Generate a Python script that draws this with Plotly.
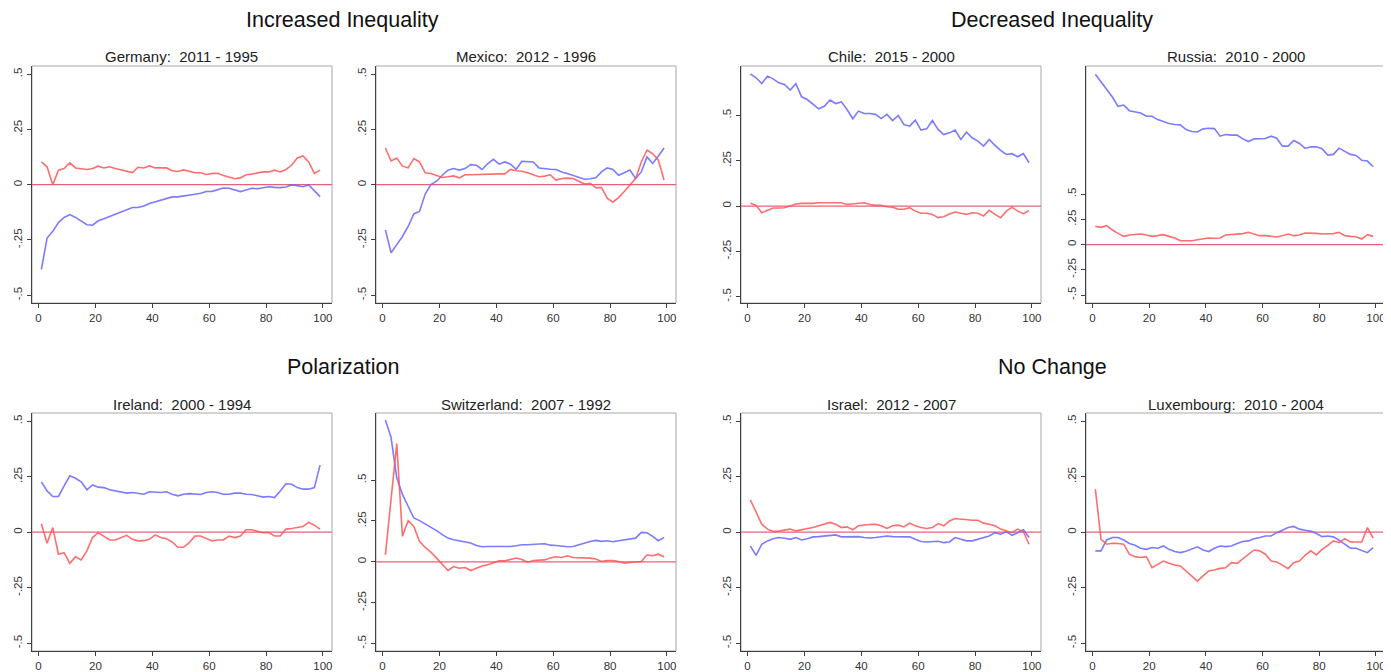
import plotly.graph_objects as go

W, H = 1391, 672
OFF = 8  # page body margin in the rendered html

# percentiles (x positions of the series)
pct = list(range(1, 100, 2))

# ---------------- data: blue = first series, red = second series ----------------
germany_blue = [-0.383, -0.241, -0.211, -0.171, -0.148, -0.135, -0.148, -0.166, -0.181, -0.183,
                -0.163, -0.154, -0.144, -0.136, -0.124, -0.114, -0.103, -0.103, -0.096, -0.085,
                -0.078, -0.070, -0.063, -0.055, -0.055, -0.052, -0.049, -0.043, -0.039, -0.031,
                -0.030, -0.021, -0.015, -0.016, -0.024, -0.031, -0.024, -0.016, -0.018, -0.015,
                -0.009, -0.012, -0.013, -0.010, -0.001, -0.004, -0.009, -0.001, -0.027, -0.054]
germany_red = [0.103, 0.081, 0.000, 0.066, 0.073, 0.099, 0.076, 0.073, 0.069, 0.073,
               0.084, 0.076, 0.081, 0.073, 0.066, 0.061, 0.055, 0.079, 0.076, 0.085,
               0.076, 0.076, 0.076, 0.063, 0.060, 0.067, 0.061, 0.054, 0.054, 0.046,
               0.051, 0.052, 0.042, 0.033, 0.027, 0.031, 0.045, 0.048, 0.052, 0.058,
               0.058, 0.066, 0.058, 0.069, 0.088, 0.121, 0.130, 0.103, 0.051, 0.066]

mexico_blue = [-0.204, -0.308, -0.271, -0.234, -0.189, -0.132, -0.121, -0.042, 0.001, 0.016,
               0.043, 0.066, 0.073, 0.066, 0.073, 0.091, 0.088, 0.069, 0.096, 0.115,
               0.093, 0.103, 0.093, 0.070, 0.106, 0.106, 0.103, 0.076, 0.072, 0.070,
               0.069, 0.058, 0.051, 0.042, 0.036, 0.025, 0.027, 0.031, 0.058, 0.076,
               0.069, 0.043, 0.054, 0.066, 0.028, 0.058, 0.126, 0.096, 0.130, 0.166]
mexico_red = [0.166, 0.108, 0.121, 0.084, 0.076, 0.118, 0.103, 0.054, 0.051, 0.043,
              0.033, 0.036, 0.040, 0.031, 0.045, 0.045, 0.046, 0.048, 0.049, 0.051,
              0.049, 0.049, 0.069, 0.063, 0.061, 0.054, 0.045, 0.036, 0.039, 0.045,
              0.021, 0.028, 0.030, 0.028, 0.016, 0.003, 0.006, -0.013, -0.013, -0.061,
              -0.079, -0.058, -0.031, -0.001, 0.028, 0.103, 0.156, 0.141, 0.111, 0.021]

chile_blue = [0.730, 0.708, 0.676, 0.717, 0.702, 0.680, 0.671, 0.640, 0.675, 0.603,
              0.588, 0.561, 0.537, 0.551, 0.585, 0.566, 0.575, 0.533, 0.482, 0.524,
              0.511, 0.511, 0.506, 0.483, 0.506, 0.472, 0.500, 0.450, 0.441, 0.474,
              0.419, 0.426, 0.472, 0.423, 0.395, 0.404, 0.419, 0.368, 0.408, 0.377,
              0.358, 0.331, 0.368, 0.335, 0.307, 0.285, 0.289, 0.272, 0.290, 0.239]
chile_red = [0.015, 0.004, -0.037, -0.024, -0.011, -0.011, -0.009, 0.000, 0.011, 0.015,
             0.013, 0.015, 0.018, 0.017, 0.017, 0.018, 0.018, 0.009, 0.011, 0.015,
             0.018, 0.009, 0.004, 0.004, -0.004, -0.006, -0.018, -0.018, -0.009, -0.028,
             -0.040, -0.040, -0.046, -0.064, -0.059, -0.044, -0.033, -0.040, -0.046, -0.037,
             -0.040, -0.055, -0.024, -0.046, -0.064, -0.028, -0.006, -0.028, -0.042, -0.026]

russia_blue = [1.691, 1.618, 1.543, 1.464, 1.372, 1.385, 1.329, 1.316, 1.306, 1.273,
               1.273, 1.240, 1.217, 1.201, 1.191, 1.188, 1.141, 1.122, 1.118, 1.148,
               1.155, 1.151, 1.076, 1.092, 1.086, 1.086, 1.049, 1.023, 1.049, 1.049,
               1.053, 1.076, 1.056, 0.977, 0.977, 1.033, 1.003, 0.954, 0.970, 0.970,
               0.951, 0.888, 0.895, 0.957, 0.928, 0.895, 0.885, 0.836, 0.829, 0.773]
russia_red = [0.181, 0.171, 0.188, 0.145, 0.112, 0.082, 0.095, 0.102, 0.105, 0.095,
              0.082, 0.089, 0.099, 0.082, 0.066, 0.039, 0.036, 0.039, 0.049, 0.056,
              0.066, 0.063, 0.066, 0.095, 0.099, 0.099, 0.109, 0.122, 0.105, 0.089,
              0.089, 0.082, 0.076, 0.089, 0.105, 0.089, 0.095, 0.115, 0.115, 0.112,
              0.105, 0.105, 0.109, 0.122, 0.089, 0.082, 0.079, 0.056, 0.099, 0.082]

ireland_blue = [0.227, 0.186, 0.161, 0.161, 0.209, 0.254, 0.243, 0.227, 0.191, 0.213,
                0.203, 0.201, 0.191, 0.186, 0.179, 0.176, 0.179, 0.176, 0.171, 0.182,
                0.179, 0.179, 0.182, 0.171, 0.164, 0.171, 0.174, 0.171, 0.170, 0.179,
                0.182, 0.179, 0.171, 0.171, 0.176, 0.176, 0.171, 0.170, 0.164, 0.158,
                0.161, 0.156, 0.186, 0.218, 0.216, 0.201, 0.194, 0.194, 0.201, 0.302]
ireland_red = [0.038, -0.050, 0.021, -0.099, -0.092, -0.140, -0.111, -0.125, -0.084, -0.024,
               -0.002, -0.020, -0.035, -0.035, -0.024, -0.014, -0.032, -0.039, -0.038, -0.032,
               -0.012, -0.024, -0.029, -0.044, -0.068, -0.068, -0.047, -0.017, -0.017, -0.029,
               -0.039, -0.035, -0.035, -0.017, -0.024, -0.017, 0.011, 0.011, 0.003, -0.002,
               -0.002, -0.017, -0.017, 0.014, 0.017, 0.023, 0.026, 0.044, 0.032, 0.014]

swiss_blue = [0.867, 0.760, 0.514, 0.412, 0.340, 0.268, 0.252, 0.232, 0.211, 0.191,
              0.166, 0.145, 0.135, 0.129, 0.125, 0.115, 0.100, 0.092, 0.094, 0.094,
              0.090, 0.090, 0.094, 0.098, 0.105, 0.105, 0.105, 0.109, 0.111, 0.102,
              0.100, 0.096, 0.092, 0.094, 0.105, 0.115, 0.125, 0.131, 0.125, 0.129,
              0.123, 0.129, 0.135, 0.141, 0.145, 0.180, 0.178, 0.156, 0.129, 0.150]
swiss_red = [0.043, 0.381, 0.723, 0.156, 0.252, 0.217, 0.125, 0.088, 0.059, 0.023,
             -0.014, -0.053, -0.029, -0.039, -0.035, -0.053, -0.039, -0.025, -0.018, -0.008,
             0.006, 0.006, 0.016, 0.023, 0.014, -0.002, 0.008, 0.008, 0.012, 0.023,
             0.031, 0.027, 0.037, 0.027, 0.027, 0.023, 0.023, 0.018, 0.002, 0.008,
             0.008, 0.002, -0.008, -0.004, -0.002, 0.002, 0.043, 0.037, 0.047, 0.031]

israel_blue = [-0.062, -0.104, -0.054, -0.039, -0.029, -0.024, -0.027, -0.032, -0.024, -0.035,
               -0.029, -0.021, -0.020, -0.018, -0.014, -0.012, -0.021, -0.020, -0.020, -0.020,
               -0.024, -0.026, -0.024, -0.020, -0.017, -0.020, -0.020, -0.021, -0.021, -0.032,
               -0.042, -0.044, -0.042, -0.041, -0.047, -0.044, -0.024, -0.032, -0.039, -0.039,
               -0.032, -0.027, -0.017, -0.002, -0.009, 0.003, -0.014, -0.002, 0.011, -0.024]
israel_red = [0.146, 0.089, 0.036, 0.014, 0.003, 0.005, 0.009, 0.014, 0.006, 0.011,
              0.014, 0.021, 0.029, 0.036, 0.044, 0.036, 0.021, 0.024, 0.011, 0.029,
              0.033, 0.035, 0.036, 0.029, 0.017, 0.029, 0.032, 0.024, 0.041, 0.029,
              0.021, 0.017, 0.021, 0.039, 0.029, 0.051, 0.062, 0.059, 0.054, 0.054,
              0.054, 0.041, 0.036, 0.029, 0.014, 0.006, -0.002, 0.014, 0.002, -0.054]

lux_blue = [-0.084, -0.084, -0.035, -0.024, -0.024, -0.035, -0.051, -0.059, -0.072, -0.077,
            -0.069, -0.072, -0.062, -0.077, -0.087, -0.092, -0.086, -0.077, -0.066, -0.080,
            -0.087, -0.072, -0.062, -0.065, -0.062, -0.051, -0.042, -0.039, -0.029, -0.024,
            -0.017, -0.017, -0.002, 0.009, 0.021, 0.026, 0.014, 0.009, 0.005, -0.006,
            -0.020, -0.017, -0.021, -0.036, -0.054, -0.072, -0.072, -0.081, -0.092, -0.069]
lux_red = [0.194, -0.032, -0.054, -0.050, -0.051, -0.054, -0.099, -0.110, -0.114, -0.110,
           -0.160, -0.145, -0.130, -0.140, -0.148, -0.152, -0.175, -0.194, -0.220, -0.197,
           -0.175, -0.170, -0.163, -0.160, -0.137, -0.140, -0.119, -0.099, -0.080, -0.084,
           -0.099, -0.130, -0.134, -0.148, -0.164, -0.137, -0.130, -0.104, -0.084, -0.102,
           -0.077, -0.059, -0.039, -0.047, -0.029, -0.044, -0.044, -0.044, 0.021, -0.027]

panel_titles = ["Germany:\u00a0 2011 - 1995", "Mexico:\u00a0 2012 - 1996",
                "Chile:\u00a0 2015 - 2000", "Russia:\u00a0 2010 - 2000",
                "Ireland:\u00a0 2000 - 1994", "Switzerland:\u00a0 2007 - 1992",
                "Israel:\u00a0 2012 - 2007", "Luxembourg:\u00a0 2010 - 2004"]
group_titles = ["Increased Inequality", "Decreased Inequality", "Polarization", "No Change"]

blue_series = [germany_blue, mexico_blue, chile_blue, russia_blue,
               ireland_blue, swiss_blue, israel_blue, lux_blue]
red_series = [germany_red, mexico_red, chile_red, russia_red,
              ireland_red, swiss_red, israel_red, lux_red]

y_tickvals = [-0.5, -0.25, 0, 0.25, 0.5]
y_ticktext = ["-.5", "-.25", "0", ".25", ".5"]
x_tickvals = [0, 20, 40, 60, 80, 100]

# ---------------- layout geometry (page pixels) ----------------
col_px = [(32, 332), (376, 676), (741, 1041), (1086, 1385)]
row_px = [(66, 303), (413, 651)]
y_ranges = [[-0.535, 0.537], [-0.535, 0.537], [-0.535, 0.773], [-0.579, 1.772],
            [-0.535, 0.537], [-0.545, 0.910], [-0.535, 0.537], [-0.535, 0.537]]
x_range = [-2.3, 103.2]


def px(xp):
    return (xp - OFF) / W


def py(yp):
    return 1 - (yp - OFF) / H


BLUE = "rgba(100,100,255,0.85)"
RED = "rgba(255,85,85,0.85)"
ZERO = "rgb(232,96,122)"
AXIS = "#404040"
FRAME = "#a8a8a8"
FONT = "Liberation Sans, Arial, sans-serif"

fig = go.Figure()
layout = dict(width=W, height=H, margin=dict(l=0, r=0, t=0, b=0),
              paper_bgcolor="white", plot_bgcolor="white", showlegend=False,
              font=dict(family=FONT, color="#222"))
shapes = []
annotations = []

for i in range(8):
    r, c = divmod(i, 4)
    x0p, x1p = col_px[c]
    y0p, y1p = row_px[r]
    n = "" if i == 0 else str(i + 1)
    xa, ya = "x" + n, "y" + n
    layout["xaxis" + n] = dict(
        domain=[px(x0p), px(x1p)], anchor=ya, range=x_range,
        tickvals=x_tickvals, ticks="outside", ticklen=4, tickcolor=AXIS,
        showline=True, linecolor=AXIS, linewidth=1, showgrid=False, zeroline=False,
        tickfont=dict(size=11.5, color="#333", family=FONT))
    layout["yaxis" + n] = dict(
        domain=[py(y1p), py(y0p)], anchor=xa, range=y_ranges[i],
        tickvals=y_tickvals, ticktext=y_ticktext, tickangle=-90,
        ticks="outside", ticklen=4, tickcolor=AXIS,
        showline=True, linecolor=AXIS, linewidth=1, showgrid=False, zeroline=False,
        tickfont=dict(size=11.5, color="#333", family=FONT))
    # light frame (top/right)
    shapes.append(dict(type="rect", xref=xa + " domain", yref=ya + " domain",
                       x0=0, x1=1, y0=0, y1=1, line=dict(color=FRAME, width=1),
                       layer="below"))
    # zero reference line
    shapes.append(dict(type="line", xref=xa + " domain", yref=ya,
                       x0=0, x1=1, y0=0, y1=0, line=dict(color=ZERO, width=1.3),
                       layer="below"))
    fig.add_trace(go.Scatter(x=pct, y=blue_series[i], mode="lines",
                             line=dict(color=BLUE, width=1.6), xaxis=xa, yaxis=ya))
    fig.add_trace(go.Scatter(x=pct, y=red_series[i], mode="lines",
                             line=dict(color=RED, width=1.6), xaxis=xa, yaxis=ya))
    annotations.append(dict(text=panel_titles[i], xref="paper", yref="paper",
                            x=px((x0p + x1p) / 2), y=py(y0p - 9),
                            xanchor="center", yanchor="middle", showarrow=False,
                            font=dict(size=15, color="#222", family=FONT)))

group_pos = [(342, 20), (1052, 20), (343, 367), (1052, 367)]
for t, (gx, gy) in zip(group_titles, group_pos):
    annotations.append(dict(text=t, xref="paper", yref="paper",
                            x=px(gx), y=py(gy), xanchor="center", yanchor="middle",
                            showarrow=False, font=dict(size=21.5, color="#111", family=FONT)))

layout["shapes"] = shapes
layout["annotations"] = annotations
fig.update_layout(**layout)
fig.write_html("out.html")
